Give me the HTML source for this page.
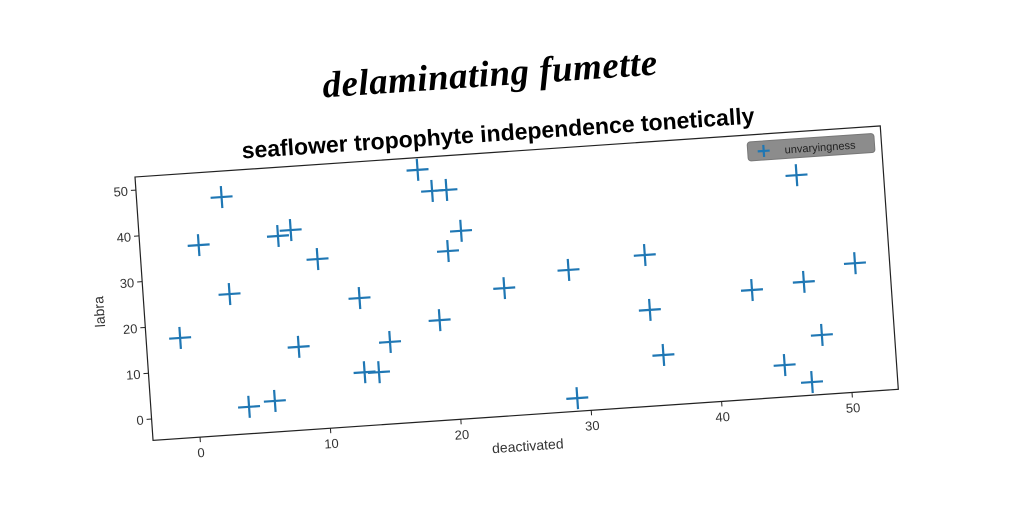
<!DOCTYPE html>
<html><head><meta charset="utf-8"><style>
html,body{margin:0;padding:0;background:#fff;width:1024px;height:512px;overflow:hidden}
svg{display:block}
</style></head><body>
<svg id="chart" width="1024" height="512" xmlns="http://www.w3.org/2000/svg">
<rect width="1024" height="512" fill="#fff"/>
<text x="490" y="86" transform="rotate(-3.92 490 75)" text-anchor="middle" font-family="'Liberation Serif',serif" font-style="italic" font-weight="bold" font-size="37" letter-spacing="0.5" fill="#000">delaminating fumette</text>
<text x="498" y="141" transform="rotate(-3.92 498 133)" text-anchor="middle" font-family="'Liberation Sans Narrow','Liberation Sans',sans-serif" font-stretch="condensed" font-weight="bold" font-size="23" fill="#000">seaflower tropophyte independence tonetically</text>
<g id="plot" transform="translate(135,177) rotate(-3.92)"></g>
</svg>
<script>
const xData=[-1.0,0.9,2.9,3.0,3.9,5.9,7.0,8.0,8.0,9.9,12.9,12.9,14.0,15.0,18.0,19.0,20.1,18.9,19.9,21.0,24.0,29.0,29.0,34.9,35.0,35.8,42.9,45.0,46.9,46.9,47.0,48.0,50.9];
const yData=[17.2,37.1,47.2,26.0,1.2,2.1,37.9,39.0,13.5,32.3,23.2,7.0,6.8,13.2,50.2,45.4,45.4,17.2,32.1,36.3,23.2,26.2,-1.8,28.3,16.3,6.3,19.1,2.3,43.4,20.1,-1.8,8.3,23.4];
const xTicks=[0,10,20,30,40,50];
const yTicks=[0,10,20,30,40,50];
const W=747,H=264;
const sx=v=>47.1+13.07*v;
const sy=v=>242.6-4.59*v;
const NS="http://www.w3.org/2000/svg";
const g=document.getElementById('plot');
function mk(t,a,p){const e=document.createElementNS(NS,t);for(const k in a)e.setAttribute(k,a[k]);(p||g).appendChild(e);return e;}
const frame=mk('rect',{x:0,y:0,width:W,height:H,fill:'none',stroke:'#222','stroke-width':1.2});


xTicks.forEach(t=>{
  const l=mk('line',{x1:sx(t),x2:sx(t),y1:H,y2:H+5,stroke:'#222'});
  
  
  const tx=mk('text',{x:sx(t),y:H+20,'text-anchor':'middle','font-family':'Liberation Sans, sans-serif','font-size':13,fill:'#333'});
  tx.textContent=t;
  
  
});
yTicks.forEach(t=>{
  const l=mk('line',{x1:-5,x2:0,y1:sy(t),y2:sy(t),stroke:'#222'});
  
  
  const tx=mk('text',{x:-8,y:sy(t)+5,'text-anchor':'end','font-family':'Liberation Sans, sans-serif','font-size':13,fill:'#333'});
  tx.textContent=t;
  
  
});
const xl=mk('text',{x:W/2,y:H+36,'text-anchor':'middle','font-family':'Liberation Sans, sans-serif','font-size':14,fill:'#333'});
xl.textContent='deactivated';


const yl=mk('text',{x:0,y:0,'text-anchor':'middle','font-family':'Liberation Sans, sans-serif','font-size':14,fill:'#333',transform:`translate(-40,${H/2}) rotate(-90)`});
yl.textContent='labra';


xData.forEach((xv,i)=>{
  const cx=sx(xv),cy=sy(yData[i]);
  const p=mk('path',{d:`M${cx-11},${cy}H${cx+11}M${cx},${cy-11}V${cy+11}`,stroke:'#1f77b4','stroke-width':2.2,fill:'none'});
  
  
});
const lg=mk('g',{});


mk('rect',{x:613,y:7,width:127,height:19,rx:3,fill:'#8c8c8c',stroke:'#777'},lg);
mk('path',{d:'M623,17H635M629,11V23',stroke:'#1f77b4','stroke-width':2.2},lg);
const lt=mk('text',{x:650,y:21,'font-family':'Liberation Sans, sans-serif','font-size':11,fill:'#222'},lg);
lt.textContent='unvaryingness';


</script>
</body></html>
